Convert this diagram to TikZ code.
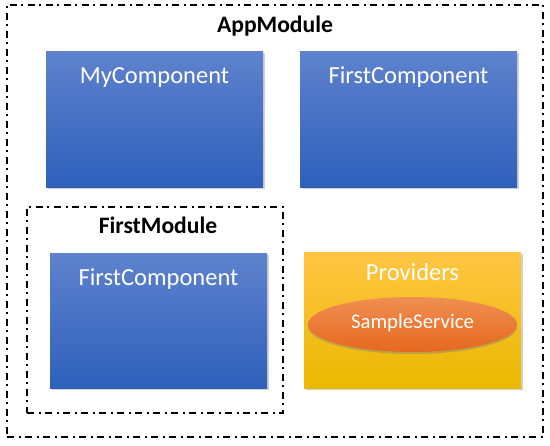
\documentclass[tikz,border=0pt]{standalone}
\usepackage{fontspec}
\setmainfont{Carlito}
\usetikzlibrary{shapes.geometric,shadows}
\definecolor{bluetop}{RGB}{94,130,205}
\definecolor{bluebot}{RGB}{46,96,186}
\definecolor{goldtop}{RGB}{255,197,66}
\definecolor{goldbot}{RGB}{234,184,0}
\definecolor{orgtop}{RGB}{240,143,82}
\definecolor{orgbot}{RGB}{230,104,30}
\begin{document}
\begin{tikzpicture}[x=1pt,y=-1pt,
  dashdot/.style={rectangle, draw=black, line width=2pt, inner sep=0pt,
    dash pattern=on 7pt off 4.5pt on 2pt off 4.5pt},
  comp/.style={rectangle, inner sep=0pt, draw=none, top color=bluetop, bottom color=bluebot,
    minimum width=217pt, minimum height=136pt,
    drop shadow={shadow xshift=1.5pt, shadow yshift=-1.5pt, opacity=0.35}},
  prov/.style={rectangle, inner sep=0pt, draw=none, top color=goldtop, bottom color=goldbot,
    minimum width=217pt, minimum height=136pt,
    drop shadow={shadow xshift=1.5pt, shadow yshift=-1.5pt, opacity=0.35}},
  svc/.style={ellipse, inner sep=0pt, draw=none, top color=orgtop, bottom color=orgbot,
    minimum width=209pt, minimum height=55pt,
    drop shadow={shadow xshift=0pt, shadow yshift=-2pt, opacity=0.45}},
  boxtext/.style={anchor=base, text=white, inner sep=0pt, font=\fontsize{24.5}{29}\selectfont},
  svctext/.style={anchor=base, text=white, inner sep=0pt, font=\fontsize{20.8}{25}\selectfont},
  modtext/.style={anchor=base, text=black, inner sep=0pt, font=\fontsize{23.6}{28}\selectfont\bfseries}]
\useasboundingbox (0,0) rectangle (550,446);
\fill[white] (0,0) rectangle (550,446);

\node[dashdot, minimum width=536pt, minimum height=432pt] (app) at (275,221) {};
\node[modtext] (applabel) at (275,33) {AppModule};

\node[comp] (mc) at (154.5,120) {};
\node[boxtext] (mclabel) at (154.5,84) {MyComponent};

\node[comp] (fc) at (408.5,120) {};
\node[boxtext] (fclabel) at (408.5,84) {FirstComponent};

\node[dashdot, minimum width=256pt, minimum height=206pt] (fm) at (155,310) {};
\node[modtext] (fmlabel) at (158,234) {FirstModule};

\node[comp, minimum height=135pt] (fc2) at (158.5,321.5) {};
\node[boxtext] (fc2label) at (158.5,286) {FirstComponent};

\node[prov] (pr) at (412.5,321) {};
\node[boxtext] (prlabel) at (412.5,281) {Providers};

\node[svc] (ss) at (412.5,324.5) {};
\node[svctext] (sslabel) at (412.5,329) {SampleService};
\end{tikzpicture}
\end{document}
